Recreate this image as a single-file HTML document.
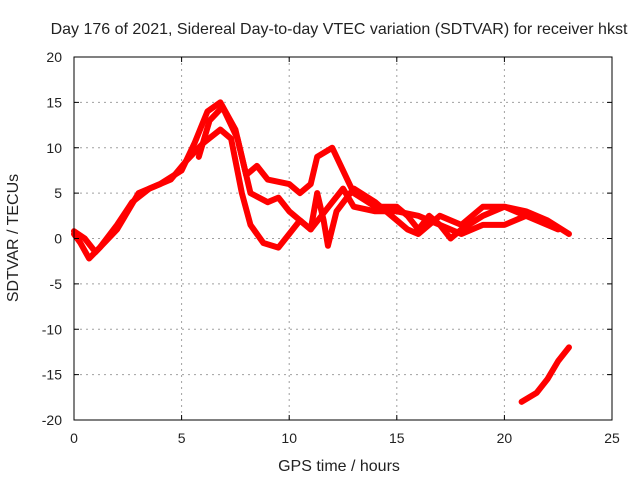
<!DOCTYPE html>
<html><head><meta charset="utf-8"><style>
body{margin:0;background:#fff}
svg text{font-family:"Liberation Sans",sans-serif;font-size:14px;fill:#222}
svg text.big{font-size:16px}
</style></head><body>
<svg id="chart" width="640" height="480">
<text class="big" x="339" y="34" text-anchor="middle">Day 176 of 2021, Sidereal Day-to-day VTEC variation (SDTVAR) for receiver hkst</text>
<g id="grid"></g>
<g id="marks"></g>
<rect x="74" y="57" width="538" height="363" fill="none" stroke="#000" stroke-width="1"/>
<g id="ticks"></g>
<text class="big" x="339" y="471" text-anchor="middle">GPS time / hours</text>
<text class="big" transform="translate(18,238) rotate(-90)" text-anchor="middle">SDTVAR / TECUs</text>
</svg>
<script>
const xTicks=[0,5,10,15,20,25];
const yTicks=[-20,-15,-10,-5,0,5,10,15,20];
const seriesA=[[0,0.5],[0.3,-0.5],[0.7,-2.2],[1.2,-1],[2,1.5],[2.7,4],[3.5,5.5],[4.5,6.5],[5.2,8.5],[6,10.5],[6.8,12],[7.3,11],[7.8,5],[8.2,1.5],[8.8,-0.5],[9.5,-1],[10,0.5],[10.5,2],[11,1],[11.5,2.5],[12,4],[12.5,5.5],[13,3.5],[14,3],[15,3],[16,2.5],[17,1.5],[17.5,0],[18,1],[19,2.5],[20,3.5],[21,3],[22,2],[23,0.5]];
const seriesB=[[0,0.8],[0.5,0],[1,-1.5],[2,1],[3,5],[4,6],[5,7.5],[5.6,10.5],[6.2,14],[6.8,15],[7.5,12],[8,7],[8.5,8],[9,6.5],[10,6],[10.5,5],[11,6],[11.3,9],[12,10],[12.5,7.5],[13,5],[14,3.5],[15,3.5],[15.5,2.5],[16,1],[16.5,2.5],[17,1.5],[18,0.5],[19,1.5],[20,1.5],[21,2.5]];
const seriesC=[[5.8,9],[6.3,13],[6.9,14.5],[7.6,11],[8.2,5],[9,4],[9.5,4.5],[10,3],[11,1],[11.3,5],[11.6,2],[11.8,-0.8],[12.2,3],[13,5.5],[14,4],[15,2],[15.5,1],[16,0.5],[16.5,1.5],[17,2.5],[18,1.5],[19,3.5],[20,3.5],[21.5,2],[22.5,1]];
const seriesD=[[20.8,-18],[21.5,-17],[22,-15.5],[22.5,-13.5],[23,-12]];
const X=h=>74+h*538/25, Y=v=>238.5-v*363/40;
const NS="http://www.w3.org/2000/svg";
const grid=document.getElementById('grid'),ticks=document.getElementById('ticks'),marks=document.getElementById('marks');
function mk(t,a,p){const e=document.createElementNS(NS,t);for(const k in a)e.setAttribute(k,a[k]);p.appendChild(e);return e;}
xTicks.forEach(t=>{const x=X(t);
 if(t>0&&t<25){const g=mk('line',{x1:x,x2:x,y1:57,y2:420,stroke:'#a0a0a0','stroke-dasharray':'2,4'},grid);
 }
 mk('line',{x1:x,x2:x,y1:420,y2:415,stroke:'#000'},ticks);mk('line',{x1:x,x2:x,y1:57,y2:62,stroke:'#000'},ticks);
 const l=mk('text',{x:x,y:443,'text-anchor':'middle'},ticks);l.textContent=t;
 });
yTicks.forEach(t=>{const y=Y(t);
 if(t>-20&&t<20){const g=mk('line',{x1:74,x2:612,y1:y,y2:y,stroke:'#a0a0a0','stroke-dasharray':'2,4'},grid);
 }
 mk('line',{x1:74,x2:79,y1:y,y2:y,stroke:'#000'},ticks);mk('line',{x1:612,x2:607,y1:y,y2:y,stroke:'#000'},ticks);
 const l=mk('text',{x:62,y:y+5,'text-anchor':'end'},ticks);l.textContent=t;
 });
[seriesA,seriesB,seriesC,seriesD].forEach((s,i)=>{
 const p=mk('polyline',{points:s.map(d=>X(d[0])+','+Y(d[1])).join(' '),fill:'none',stroke:'#ff0000','stroke-width':6,'stroke-linejoin':'round','stroke-linecap':'round'},marks);
 
 });
</script>
</body></html>
